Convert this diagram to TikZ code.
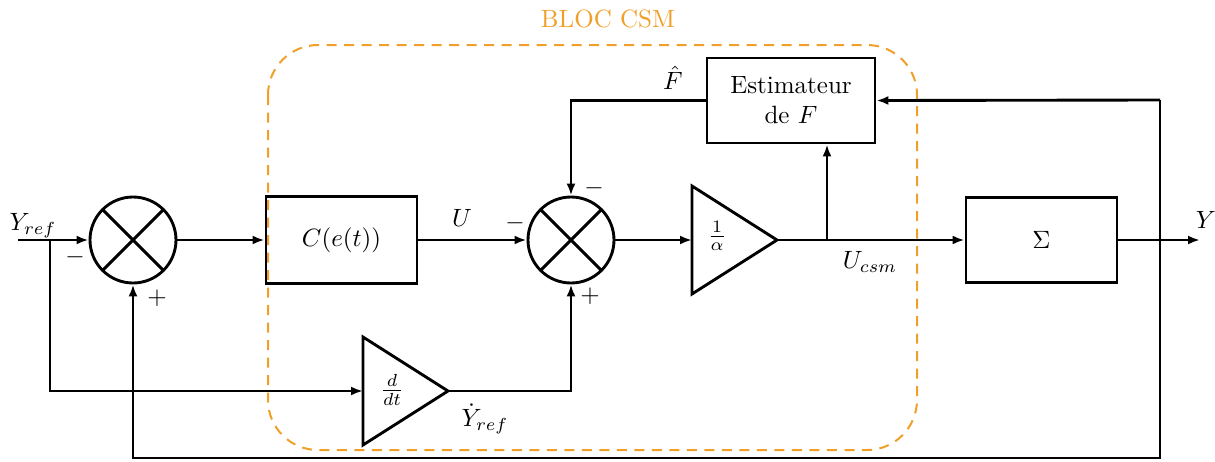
\documentclass[tikz,border=0pt]{standalone}
\usetikzlibrary{arrows.meta}
\definecolor{bloc}{RGB}{240,160,40}
\begin{document}
\begin{tikzpicture}[x=0.4pt,y=-0.4pt,
  line width=1.15pt,
  >={Latex[length=4.8pt,width=3.6pt]},
  sumnode/.style={draw,circle,minimum size=34.4pt,inner sep=0pt,
    path picture={\draw (path picture bounding box.north west)--(path picture bounding box.south east)
      (path picture bounding box.south west)--(path picture bounding box.north east);}},
  blockbox/.style={draw,rectangle,inner sep=0pt,align=center},
  lbl/.style={inner sep=1pt},
  gain/.style={line join=miter},
  ]
\useasboundingbox (0,0) rectangle (1215,461);

% CSM block frame
\draw[bloc,line width=0.8pt,dash pattern=on 4pt off 3pt,rounded corners=20pt] (268,45) rectangle (917,450);
\node[bloc,lbl] (bloctitle) at (608,19) {BLOC CSM};

% nodes
\node[sumnode] (s1) at (133,240) {};
\node[blockbox,minimum width=60.4pt,minimum height=34.8pt] (cbox) at (341.5,240) {$C(e(t))$};
\node[sumnode] (s2) at (571,240) {};
\node[blockbox,minimum width=67.2pt,minimum height=34pt] (est) at (791,100.5) {Estimateur\\de $F$};
\node[blockbox,minimum width=60.4pt,minimum height=34pt] (sig) at (1041.5,240) {$\Sigma$};

% gain 1/alpha
\draw[gain] (692,186) -- (777,240) -- (692,294) -- cycle;
\coordinate (ta-in) at (692,240);
\coordinate (ta-out) at (777,240);
\node[lbl] (talbl) at (717,236) {$\frac{1}{\alpha}$};

% gain d/dt
\draw[gain] (363,337) -- (448,391) -- (363,445) -- cycle;
\coordinate (td-in) at (363,391);
\coordinate (td-out) at (448,391);
\node[lbl] (tdlbl) at (392,390) {$\frac{d}{dt}$};

% coordinates
\coordinate (in) at (18,240);
\coordinate (b1) at (50,240);
\coordinate (b2) at (827,240);
\coordinate (out) at (1200,240);
\coordinate (fbtop) at (1160,100);
\coordinate (fbbot) at (1160,458);

% connectors
\draw[->] (in) -- (s1.west);
\draw[->] (b1) |- (td-in);
\draw[->] (s1.east) -- (cbox.west);
\draw[->] (cbox.east) -- (s2.west);
\draw[->] (s2.east) -- (ta-in);
\draw[->] (ta-out) -- (sig.west);
\draw[->] (b2) -- (b2 |- est.south);
\draw[->] (est.west) -| (s2.north);
\draw[->] (td-out) -| (s2.south);
\draw[->] (sig.east) -- (out);
\draw[->] (fbtop) -- (est.east);
\draw[->] (fbtop) -- (fbbot) -| (s1.south);

% labels
\node[lbl] (lyref) at (33,226) {$Y_{ref}$};
\node[lbl] (lm1) at (75,257) {$-$};
\node[lbl] (lp1) at (157,298) {$+$};
\node[lbl] (lu) at (462,218) {$U$};
\node[lbl] (lm2) at (515,223) {$-$};
\node[lbl] (lm3) at (594,188) {$-$};
\node[lbl] (lp2) at (590,296) {$+$};
\node[lbl] (lfhat) at (673,78) {$\hat{F}$};
\node[lbl] (lucsm) at (870,262) {$U_{csm}$};
\node[lbl] (lydot) at (485,419) {$\dot{Y}_{ref}$};
\node[lbl] (ly) at (1206,220) {$Y$};
\end{tikzpicture}
\end{document}
